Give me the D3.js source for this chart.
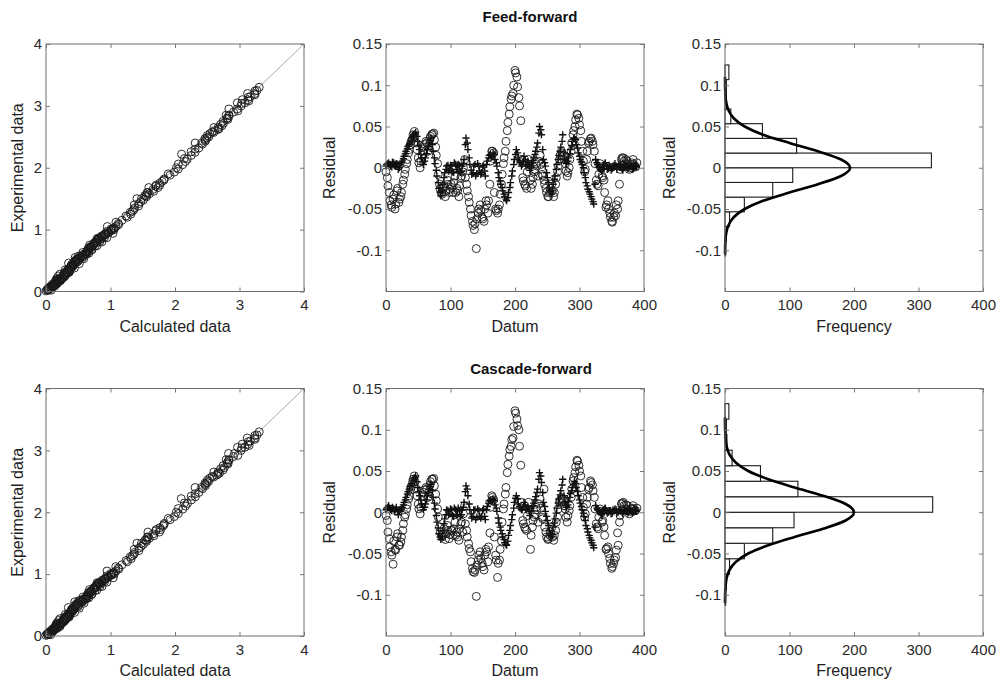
<!DOCTYPE html>
<html><head><meta charset="utf-8">
<script src="https://cdn.jsdelivr.net/npm/d3@7"></script>
<style>
body{margin:0;background:#fff}
svg{display:block}
text{font-family:"Liberation Sans",Arial,Helvetica,sans-serif}
</style>
</head><body>
<svg id="chart" width="999" height="681"></svg>
<script>
// ---------------- DATA ----------------
const titles = ["Feed-forward", "Cascade-forward"];
const parityTicks = [0, 1, 2, 3, 4];
const datumTicks = [0, 100, 200, 300, 400];
const freqTicks = [0, 100, 200, 300, 400];
const residualTicks = [-0.1, -0.05, 0, 0.05, 0.1, 0.15];

// datum numbers of the marker series
const circleDatumA = d3.range(2, 392, 3);
const circleDatumB = d3.range(0, 390, 3);
const plusDatumA = d3.range(1, 391, 3);
const plusDatumB = d3.range(0, 390, 3);

// experimental values (shared by both networks) for the circle series A and B
const experimentalA = [
0.05,0.08,0.12,0.15,0.18,0.22,0.25,0.28,0.31,0.35,
0.38,0.42,0.45,0.48,0.52,0.55,0.58,0.62,0.65,0.68,
0.72,0.75,0.78,0.82,0.85,0.88,0.92,0.95,0.98,1.02,
1.05,0.03,0.06,0.1,0.14,0.2,0.26,0.33,0.4,0.47,
0.54,0.6,0.67,0.74,0.8,0.87,0.94,1.0,1.08,1.2,
1.25,1.32,1.38,1.45,1.5,1.55,1.62,1.68,1.72,1.78,
1.9,0.19,2.65,0.86,3.05,1.5,2.22,0.46,1.68,2.85,
2.4,2.45,2.5,2.55,2.6,2.65,2.7,2.75,2.8,2.85,
2.9,2.95,3.0,3.05,3.1,3.15,3.2,3.25,3.3,0.04,
0.07,0.11,0.16,0.21,0.27,0.36,0.44,0.5,0.57,0.63,
0.7,0.77,0.84,0.9,0.97,1.12,1.4,1.6,1.82,2.0,
2.15,2.3,2.48,2.62,2.78,2.92,3.08,3.18,0.02,0.09,
0.13,0.19,0.3,0.39,0.46,0.6,0.71,0.79,0.86,0.93];
const experimentalB = [
0.06,0.1,0.13,0.17,0.2,0.24,0.27,0.3,0.34,0.37,
0.41,0.44,0.47,0.5,0.53,0.57,0.6,0.64,0.66,0.7,
0.73,0.76,0.8,0.83,0.86,0.9,0.93,0.96,1.0,1.03,
1.1,1.15,1.22,1.28,1.35,1.42,1.48,1.53,1.58,1.65,
1.7,1.75,1.8,1.88,1.93,1.98,2.05,2.1,2.14,2.2,
2.25,2.32,2.38,2.43,2.47,2.52,2.57,2.63,2.68,2.72,
2.8,0.3,1.6,3.1,0.75,2.4,1.05,2.95,0.55,3.2,
0.01,0.04,0.08,0.12,0.16,0.19,0.23,0.29,0.32,0.36,
0.43,0.49,0.55,0.61,0.68,0.74,0.81,0.88,0.95,1.01,
0.03,0.05,0.07,0.09,0.11,0.14,0.18,0.21,0.25,0.28,
0.35,0.42,0.51,0.56,0.65,0.72,0.78,0.85,0.91,0.99,
0.02,0.06,0.1,0.15,0.22,0.31,0.38,0.45,0.53,0.62,
1.3,1.55,1.72,2.06,2.26,2.58,2.84,3.04,3.14,3.24];

// Feed-forward residuals
const ffCircleA = [
-0.012,-0.03,-0.045,-0.038,-0.05,-0.028,-0.042,-0.035,-0.02,-0.008,
0.005,0.018,0.028,0.035,0.044,0.03,
0.012,0,0.015,0.025,0.032,
0.02,0.035,0.04,0.042,0.025,0.005,
-0.02,-0.03,-0.025,-0.035,-0.015,-0.03,
-0.02,-0.03,-0.01,-0.025,-0.035,-0.012,-0.005,0.01,
-0.02,-0.035,
-0.05,-0.065,-0.075,-0.098,-0.055,-0.045,
-0.06,-0.065,-0.04,-0.055,-0.02,0.02,
0.018,-0.05,-0.055,-0.045,-0.02,0.005,
0.02,0.045,0.065,0.083,0.09,
0.118,0.11,0.085,0.057,
-0.012,-0.02,-0.025,0.01,-0.015,-0.02,-0.005,0.005,-0.01,
0.015,-0.008,
-0.015,-0.025,-0.035,-0.03,-0.02,-0.035,
-0.02,-0.005,0.01,0.02,
0.015,
0.005,-0.01,0,0.02,0.04,0.05,
0.065,0.06,0.045,0.02,-0.005,0.01,
0.03,0.035,0.032,0.02,-0.015,
-0.022,0.005,-0.01,-0.015,-0.048,-0.04,
-0.055,-0.065,-0.06,-0.058,-0.05,-0.02,0.01,0.012,0.005,0.008,-0.002,0.004,0.01,0.002,0.006];
const ffCircleB = [
-0.005,-0.022,-0.04,-0.048,-0.033,-0.044,-0.025,-0.038,-0.03,-0.015,
-0.002,0.01,0.022,0.032,0.04,0.038,
0.022,0.006,0.008,0.02,0.028,
0.03,0.026,0.038,0.041,0.034,0.015,
-0.008,-0.026,-0.032,-0.022,-0.028,-0.02,
-0.026,-0.024,-0.018,-0.03,-0.028,-0.022,-0.01,0,
-0.012,-0.028,
-0.042,-0.058,-0.07,-0.068,-0.062,-0.05,
-0.052,-0.062,-0.05,-0.045,-0.04,0.008,
0.02,-0.03,-0.052,-0.05,-0.032,-0.008,
0.012,0.032,0.055,0.074,0.087,
0.1,0.115,0.098,0.075,
0.01,-0.016,-0.022,-0.005,0.004,-0.025,-0.012,-0.002,0.002,
0.008,0.004,
-0.01,-0.02,-0.03,-0.035,-0.025,-0.028,
-0.03,-0.012,0.002,0.015,
0.018,
0.01,-0.004,-0.006,0.01,0.03,0.045,
0.058,0.064,0.052,0.032,0.008,-0.002,
0.02,0.032,0.036,0.028,0.005,
-0.02,-0.008,0,-0.012,-0.03,-0.045,
-0.05,-0.06,-0.066,-0.055,-0.045,-0.04,-0.002,0.012,0.008,0.01,0.002,0,0.006,0.004,0.001];
const ffPlusA = [
0.004,0.006,0.002,0.007,0.003,0.005,-0.002,0.004,
0.008,0.014,0.02,0.026,0.03,0.036,0.04,0.043,
0.032,0.022,0.012,0.004,
0.012,0.022,0.03,0.036,
0.02,0.005,-0.01,-0.025,-0.034,
-0.02,-0.006,0.002,-0.004,
0.003,-0.005,0.006,-0.002,0.004,-0.006,0.002,0.01,
0.036,0.022,
0.004,-0.008,0.002,-0.01,0.005,-0.004,
-0.006,0.003,-0.01,0.008,0.015,0.012,
0.018,0.01,0.002,-0.012,-0.02,-0.028,
-0.035,-0.04,-0.03,-0.018,-0.004,
0.01,0.022,0.012,0.006,
0.004,0.014,0.002,0.008,-0.003,0.006,0.012,0.02,0.03,
0.05,0.04,
0.01,0.002,-0.012,-0.024,-0.032,-0.02,
-0.01,0.004,0.015,0.025,
0.04,
0.01,0.005,0.012,0.022,0.032,0.036,
0.028,0.018,0.01,0.004,-0.006,-0.018,
-0.026,-0.032,-0.038,-0.044,0.01,
0.004,0,-0.004,0.002,0.006,-0.002,
0.003,-0.003,0.002,0.005,-0.002,0.004,0.001,-0.003,0.004,0.002,0,0.003,-0.002,0.002,0.001];
const ffPlusB = [
0.002,0.005,0.004,0.001,0.006,0.002,0.004,0,
0.006,0.011,0.017,0.023,0.028,0.033,0.038,0.041,
0.038,0.027,0.016,0.007,
0.008,0.017,0.026,0.033,
0.028,0.012,-0.003,-0.018,-0.03,
-0.028,-0.012,-0.002,0.003,
-0.003,0.002,-0.006,0.004,-0.002,0.003,-0.004,0.005,
0.028,0.03,
0.012,-0.003,-0.006,0.004,-0.007,0.002,
-0.008,0.001,-0.004,0.004,0.012,0.016,
0.014,0.016,0.006,-0.006,-0.016,-0.024,
-0.032,-0.038,-0.036,-0.024,-0.01,
0.004,0.016,0.018,0.008,
0.002,0.008,0.01,0.004,0.003,0.001,0.009,0.016,0.025,
0.042,0.046,
0.022,0.006,-0.006,-0.018,-0.028,-0.028,
-0.014,-0.002,0.01,0.02,
0.032,
0.018,0.007,0.008,0.017,0.027,0.035,
0.034,0.024,0.014,0.007,0,-0.012,
-0.022,-0.029,-0.035,-0.041,-0.02,
0.006,0.002,-0.002,-0.001,0.004,0.002,
-0.001,0.001,-0.001,0.003,0.002,0.001,0.003,-0.001,0.001,0.004,-0.001,0.001,0.002,-0.001,0.003];

// Cascade-forward residuals
const cfCircleA = [
-0.01,-0.032,-0.048,-0.063,-0.045,-0.03,-0.04,-0.036,-0.022,-0.006,
0.004,0.016,0.027,0.036,0.044,0.028,
0.01,-0.002,0.014,0.024,0.03,
0.018,0.033,0.04,0.041,0.022,0.004,
-0.018,-0.028,-0.027,-0.033,-0.016,-0.032,
-0.022,-0.028,-0.012,-0.024,-0.034,-0.014,-0.024,0.008,
-0.022,-0.038,
-0.048,-0.068,-0.073,-0.102,-0.058,-0.048,
-0.062,-0.07,-0.045,-0.06,-0.025,0.02,
0.015,-0.052,-0.079,-0.058,-0.035,0.004,
0.022,0.048,0.068,0.08,0.09,
0.123,0.113,0.1,0.057,
-0.01,-0.018,-0.022,0.012,-0.045,-0.018,-0.006,0.006,-0.012,
0.016,-0.006,
0.028,-0.024,-0.033,-0.028,-0.018,-0.034,
-0.022,-0.006,0.012,0.018,
0.014,
0.004,-0.012,0.002,0.018,0.038,0.048,
0.063,0.057,0.044,0.018,-0.006,0.01,
0.028,0.038,0.033,0.018,-0.014,
-0.02,0.004,-0.012,-0.018,-0.045,-0.042,
-0.056,-0.068,-0.062,-0.055,-0.025,-0.012,0.01,0.012,0.004,0.008,-0.002,0.004,0.008,0.002,0.005];
const cfCircleB = [
-0.004,-0.024,-0.042,-0.052,-0.035,-0.046,-0.026,-0.04,-0.03,-0.014,
-0.003,0.009,0.02,0.031,0.04,0.037,
0.02,0.004,0.006,0.019,0.027,
0.028,0.024,0.037,0.04,0.032,0.014,
-0.006,-0.024,-0.03,-0.02,-0.026,-0.022,
-0.027,-0.022,-0.02,-0.028,-0.03,-0.02,-0.012,-0.002,
-0.014,-0.03,
-0.044,-0.06,-0.072,-0.07,-0.064,-0.052,
-0.056,-0.066,-0.052,-0.048,-0.042,0.006,
0.018,-0.03,-0.058,-0.062,-0.045,-0.012,
0.01,0.03,0.058,0.076,0.088,
0.104,0.12,0.105,0.08,
0.012,-0.014,-0.02,-0.004,0.003,-0.028,-0.01,-0.003,0.003,
0.01,0.005,
-0.008,-0.018,-0.03,-0.032,-0.024,-0.03,
-0.028,-0.012,0.004,0.014,
0.016,
0.008,-0.006,-0.004,0.008,0.028,0.042,
0.055,0.062,0.05,0.03,0.006,-0.002,
0.018,0.03,0.036,0.026,0.004,
-0.018,-0.006,0.001,-0.01,-0.028,-0.044,
-0.05,-0.062,-0.066,-0.058,-0.046,-0.04,-0.004,0.011,0.008,0.009,0.002,0.001,0.005,0.004,0.002];
const cfPlusA = [
0.005,0.008,0.003,0.006,0.001,0.006,-0.003,0.003,
0.006,0.012,0.018,0.025,0.031,0.035,0.041,0.044,
0.03,0.02,0.01,0.003,
0.01,0.02,0.028,0.034,
0.018,0.004,-0.012,-0.026,-0.033,
-0.022,-0.008,0.003,-0.003,
0.004,-0.004,0.005,-0.003,0.005,-0.005,0.003,0.012,
0.032,0.02,
0.003,-0.007,0.003,-0.009,0.004,-0.005,
-0.005,0.004,-0.009,0.007,0.014,0.013,
0.016,0.009,0.001,-0.013,-0.022,-0.03,
-0.037,-0.04,-0.028,-0.016,-0.003,
0.012,0.02,0.01,0.005,
0.003,0.012,0.003,0.007,-0.004,0.005,0.011,0.019,0.028,
0.048,0.036,
0.012,0.001,-0.01,-0.022,-0.03,-0.018,
-0.008,0.005,0.016,0.026,
0.04,
0.012,0.006,0.013,0.023,0.03,0.037,
0.03,0.02,0.011,0.003,-0.005,-0.016,
-0.024,-0.031,-0.037,-0.043,0.008,
0.003,0.001,-0.003,0.003,0.005,-0.001,
0.002,-0.002,0.003,0.004,-0.001,0.003,0.002,-0.002,0.003,0.001,0.001,0.002,-0.001,0.003,0.001];
const cfPlusB = [
0.003,0.006,0.005,0.002,0.004,0.003,0.002,0.001,
0.004,0.009,0.015,0.022,0.028,0.033,0.038,0.042,
0.037,0.025,0.015,0.006,
0.006,0.015,0.024,0.031,
0.026,0.011,-0.004,-0.019,-0.03,
-0.029,-0.014,-0.003,0.002,
-0.002,0.003,-0.005,0.003,-0.003,0.002,-0.003,0.006,
0.025,0.028,
0.01,-0.002,-0.005,0.003,-0.006,0.002,
-0.007,0.002,-0.005,0.003,0.011,0.015,
0.015,0.014,0.005,-0.007,-0.018,-0.026,
-0.033,-0.039,-0.035,-0.022,-0.009,
0.005,0.017,0.016,0.007,
0.003,0.007,0.009,0.005,0.002,0.001,0.008,0.015,0.024,
0.04,0.044,
0.024,0.007,-0.005,-0.016,-0.026,-0.027,
-0.013,-0.001,0.011,0.021,
0.033,
0.02,0.008,0.009,0.018,0.026,0.034,
0.035,0.025,0.015,0.007,-0.001,-0.01,
-0.02,-0.028,-0.034,-0.04,-0.018,
0.005,0.002,-0.001,-0.002,0.004,0.002,
0,0.002,-0.001,0.002,0.003,0,0.002,0,0.002,0.003,-0.001,0.002,0.001,0,0.002];

// Histograms of residuals
const ffBinEdges = [-0.1068,-0.089,-0.0712,-0.0534,-0.0356,-0.0178,0,0.0178,0.0356,0.0534,0.0712,0.089,0.1068,0.1246];
const ffBinCounts = [1,2,7,30,74,105,320,111,58,9,2,2,6];
const cfBinEdges = [-0.1128,-0.094,-0.0752,-0.0564,-0.0376,-0.0188,0,0.0188,0.0376,0.0564,0.0752,0.094,0.1128,0.1316];
const cfBinCounts = [1,2,7,30,74,107,322,113,55,11,3,2,6];

// fitted normal curves (residual, frequency)
const ffFitResidual = [-0.105,-0.1,-0.09,-0.08,-0.07,-0.06,-0.05,-0.04,-0.03,-0.02,-0.01,0,0.01,0.02,0.03,0.04,0.05,0.06,0.07,0.08,0.09,0.1,0.11];
const ffFitFrequency = [0.05,0.12,0.5,1.7,5.2,13.5,30.5,59,100,144,180,194,180,144,100,59,30.5,13.5,5.2,1.7,0.5,0.12,0.03];
const cfFitResidual = [-0.11,-0.1,-0.09,-0.08,-0.07,-0.06,-0.05,-0.04,-0.03,-0.02,-0.01,0,0.01,0.02,0.03,0.04,0.05,0.06,0.07,0.08,0.09,0.1,0.11,0.115];
const cfFitFrequency = [0.05,0.2,0.8,2.5,6.9,17,36,67,108,152,187,200,187,152,108,67,36,17,6.9,2.5,0.8,0.2,0.05,0.02];

// ---------------- LAYOUT ----------------
const W = 258, H = 247.5;
const colX = [46, 386, 725];
const rowY = [44, 388.5];
const BOX = "#6e6e6e", TICK = "#777", TXT = "#1e1e1e";
const svg = d3.select("#chart");
const fmt = d => String(+(+d).toFixed(3));

function frame(g, x, y, xt, yt, xlabel, ylabel, ylabOff) {
  g.append("rect").attr("width", W).attr("height", H)
    .attr("fill", "none").attr("stroke", BOX).attr("stroke-width", 1);
  const ax = [
    g.append("g").attr("transform", `translate(0,${H})`)
      .call(d3.axisBottom(x).tickValues(xt).tickSize(-4).tickSizeOuter(0).tickPadding(8).tickFormat(fmt)),
    g.append("g")
      .call(d3.axisTop(x).tickValues(xt).tickSize(-4).tickSizeOuter(0).tickFormat("")),
    g.append("g")
      .call(d3.axisLeft(y).tickValues(yt).tickSize(-4).tickSizeOuter(0).tickPadding(4).tickFormat(fmt)),
    g.append("g").attr("transform", `translate(${W},0)`)
      .call(d3.axisRight(y).tickValues(yt).tickSize(-4).tickSizeOuter(0).tickFormat(""))
  ];
  ax.forEach(a => {
    a.select(".domain").remove();
    a.selectAll(".tick line").attr("stroke", TICK);
    a.selectAll(".tick text").attr("fill", "#2a2a2a")
      .style("font-size", "15px").style("font-family", '"Liberation Sans",Arial,sans-serif');
  });
  g.append("text").attr("x", W / 2).attr("y", H + 40).attr("text-anchor", "middle")
    .attr("fill", TXT).style("font-size", "16px").text(xlabel);
  g.append("text").attr("transform", `translate(${-ylabOff},${H / 2}) rotate(-90)`)
    .attr("text-anchor", "middle").attr("fill", TXT).style("font-size", "16px").text(ylabel);
}

const plusPath = "M-3.6,0H3.6M0,-3.6V3.6";

function drawRow(r, cA, cB, pA, pB, edges, counts, fitRes, fitFreq) {
  // ---- parity plot ----
  const g1 = svg.append("g").attr("transform", `translate(${colX[0]},${rowY[r]})`);
  const x1 = d3.scaleLinear().domain([0, 4]).range([0, W]);
  const y1 = d3.scaleLinear().domain([0, 4]).range([H, 0]);
  g1.append("line").attr("x1", x1(0)).attr("y1", y1(0)).attr("x2", x1(4)).attr("y2", y1(4))
    .attr("stroke", "#a8a8a8").attr("stroke-width", 1);
  const pts = experimentalA.map((e, i) => ({ exp: e, calc: e - cA[i] }))
    .concat(experimentalB.map((e, i) => ({ exp: e, calc: e - cB[i] })));
  g1.selectAll("circle.p").data(pts).join("circle").attr("class", "p")
    .attr("cx", d => x1(d.calc)).attr("cy", d => y1(d.exp)).attr("r", 4)
    .attr("fill", "none").attr("stroke", "#1a1a1a").attr("stroke-width", 0.9);
  frame(g1, x1, y1, parityTicks, parityTicks, "Calculated data", "Experimental data", 23);

  // ---- residual vs datum ----
  const g2 = svg.append("g").attr("transform", `translate(${colX[1]},${rowY[r]})`);
  const x2 = d3.scaleLinear().domain([0, 400]).range([0, W]);
  const y2 = d3.scaleLinear().domain([-0.15, 0.15]).range([H, 0]);
  const circ = cA.map((v, i) => [circleDatumA[i], v]).concat(cB.map((v, i) => [circleDatumB[i], v]));
  const plus = pA.map((v, i) => [plusDatumA[i], v]).concat(pB.map((v, i) => [plusDatumB[i], v]));
  g2.selectAll("circle.c").data(circ).join("circle").attr("class", "c")
    .attr("cx", d => x2(d[0])).attr("cy", d => y2(d[1])).attr("r", 4)
    .attr("fill", "none").attr("stroke", "#1a1a1a").attr("stroke-width", 0.9);
  g2.selectAll("path.pl").data(plus).join("path").attr("class", "pl")
    .attr("transform", d => `translate(${x2(d[0])},${y2(d[1])})`)
    .attr("d", plusPath).attr("fill", "none").attr("stroke", "#111").attr("stroke-width", 1.4);
  frame(g2, x2, y2, datumTicks, residualTicks, "Datum", "Residual", 51);

  // ---- histogram ----
  const g3 = svg.append("g").attr("transform", `translate(${colX[2]},${rowY[r]})`);
  const x3 = d3.scaleLinear().domain([0, 400]).range([0, W]);
  const y3 = d3.scaleLinear().domain([-0.15, 0.15]).range([H, 0]);
  g3.selectAll("rect.bar").data(counts).join("rect").attr("class", "bar")
    .attr("x", x3(0)).attr("y", (d, i) => y3(edges[i + 1]))
    .attr("width", d => x3(d) - x3(0)).attr("height", (d, i) => y3(edges[i]) - y3(edges[i + 1]))
    .attr("fill", "#fff").attr("stroke", "#1a1a1a").attr("stroke-width", 1.1);
  const line = d3.line().x(d => x3(d[1])).y(d => y3(d[0])).curve(d3.curveMonotoneY);
  g3.append("path").datum(fitRes.map((v, i) => [v, fitFreq[i]]))
    .attr("d", line).attr("fill", "none").attr("stroke", "#000").attr("stroke-width", 2.6);
  frame(g3, x3, y3, freqTicks, residualTicks, "Frequency", "Residual", 50);
}

drawRow(0, ffCircleA, ffCircleB, ffPlusA, ffPlusB, ffBinEdges, ffBinCounts, ffFitResidual, ffFitFrequency);
drawRow(1, cfCircleA, cfCircleB, cfPlusA, cfPlusB, cfBinEdges, cfBinCounts, cfFitResidual, cfFitFrequency);

svg.append("text").attr("x", 530).attr("y", 21.5).attr("text-anchor", "middle")
  .attr("fill", "#111").style("font-size", "15px").style("font-weight", "bold").text(titles[0]);
svg.append("text").attr("x", 531).attr("y", 373.5).attr("text-anchor", "middle")
  .attr("fill", "#111").style("font-size", "15px").style("font-weight", "bold").text(titles[1]);
</script>
</body></html>
